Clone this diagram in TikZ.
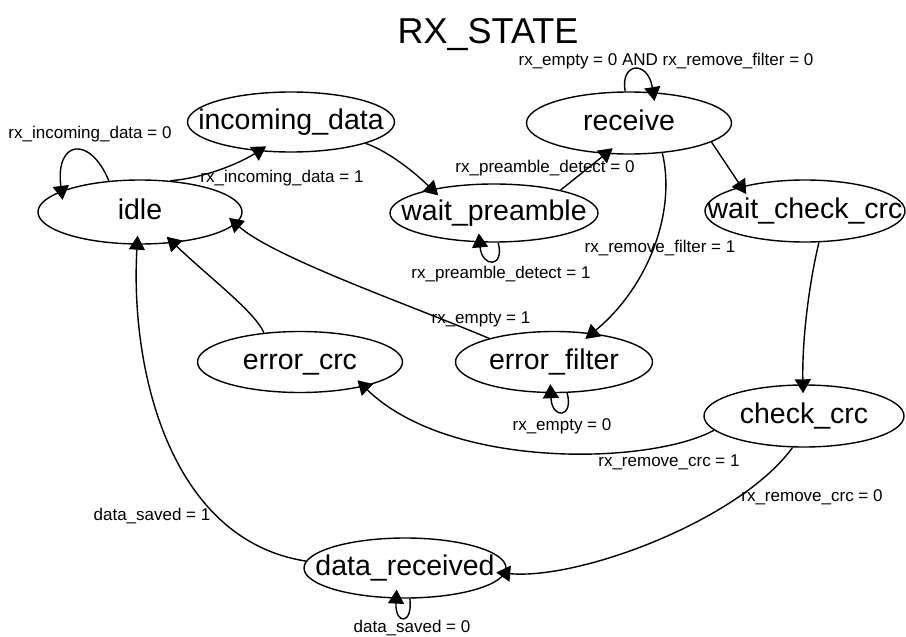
\documentclass[tikz,border=0pt]{standalone}
\usepackage{fontspec}
\setmainfont{Liberation Sans}
\usetikzlibrary{shapes.geometric,arrows.meta}

\begin{document}
\begin{tikzpicture}[x=1pt,y=-1pt,
  fsmtext/.style={font=\fontsize{28.5}{30}\selectfont, text height=21pt, text depth=7pt, inner sep=0pt},
  fsm/.style={ellipse, draw, line width=1.4pt, inner sep=0pt, label={[fsmtext]center:#1}},
  tr/.style={line width=1.4pt, -{Triangle[length=14pt,width=16pt]}, shorten >=-9pt},
  cond/.style={font=\fontsize{17}{18}\selectfont, inner sep=0pt, anchor=base},
]
\useasboundingbox (0,0) rectangle (906,637);

% title
\node[anchor=base, inner sep=0pt, font=\fontsize{36}{40}\selectfont] (title) at (488,43) {RX\_STATE};

% states
\node[fsm=idle, minimum width=204pt, minimum height=64pt] (idle) at (140,212) {};
\node[fsm=incoming\_data, minimum width=207pt, minimum height=60pt] (incoming_data) at (291,122) {};
\node[fsm=receive, minimum width=205pt, minimum height=62pt] (receive) at (629,123) {};
\node[fsm=wait\_preamble, minimum width=208pt, minimum height=58pt] (wait_preamble) at (494,213) {};
\node[fsm=wait\_check\_crc, minimum width=200pt, minimum height=62pt] (wait_check_crc) at (805,211) {};
\node[fsm=error\_crc, minimum width=205pt, minimum height=61pt] (error_crc) at (300,362) {};
\node[fsm=error\_filter, minimum width=197pt, minimum height=61pt] (error_filter) at (554,362) {};
\node[fsm=check\_crc, minimum width=200pt, minimum height=62pt] (check_crc) at (804,416) {};
\node[fsm=data\_received, minimum width=202pt, minimum height=60pt] (data_received) at (405,568) {};

% transitions
\draw[tr] (idle.135) .. controls (90,135) and (55,140) .. (idle.165);
\draw[tr] (idle.46) .. controls (205,178) and (240,163) .. (incoming_data.222);
\draw[tr] (incoming_data.344) .. controls (385,150) and (410,168) .. (wait_preamble.159);
\draw[tr] (wait_preamble.19) -- (receive.233);
\draw[tr] (wait_preamble.278) .. controls (505,268) and (482,268) .. (wait_preamble.244);
\draw[tr] (receive.97) .. controls (620,62) and (648,60) .. (receive.52);
\draw[tr] (receive.347) -- (wait_check_crc.159);
\draw[tr] (receive.318) .. controls (676,210) and (650,285) .. (error_filter.37);
\draw[tr] (wait_check_crc.294) .. controls (812,270) and (802,330) .. (check_crc.92);
\draw[tr] (error_filter.160) .. controls (410,305) and (275,258) .. (idle.353);
\draw[tr] (error_crc.141) .. controls (255,312) and (210,278) .. (idle.317);
\draw[tr] (data_received.176) .. controls (170,540) and (130,370) .. (idle.265);
\draw[tr] (error_filter.293) .. controls (574,418) and (552,420) .. (error_filter.264);
\draw[tr] (check_crc.189) .. controls (650,465) and (450,470) .. (error_crc.339);
\draw[tr] (check_crc.250) .. controls (740,520) and (580,580) .. (data_received.357);
\draw[tr] (data_received.279) .. controls (413,625) and (395,625) .. (data_received.254);

% transition conditions
\node[cond] (c1) at (90,138) {rx\_incoming\_data = 0};
\node[cond] (c2) at (282,182) {rx\_incoming\_data = 1};
\node[cond] (c3) at (545,172) {rx\_preamble\_detect = 0};
\node[cond] (c4) at (501,278) {rx\_preamble\_detect = 1};
\node[cond] (c5) at (666,65) {rx\_empty = 0 AND rx\_remove\_filter = 0};
\node[cond] (c6) at (660,252) {rx\_remove\_filter = 1};
\node[cond] (c7) at (481,323) {rx\_empty = 1};
\node[cond] (c8) at (562,430) {rx\_empty = 0};
\node[cond] (c9) at (669,466) {rx\_remove\_crc = 1};
\node[cond] (c10) at (812,501) {rx\_remove\_crc = 0};
\node[cond] (c11) at (152,520) {data\_saved = 1};
\node[cond] (c12) at (412,632) {data\_saved = 0};
\end{tikzpicture}
\end{document}
